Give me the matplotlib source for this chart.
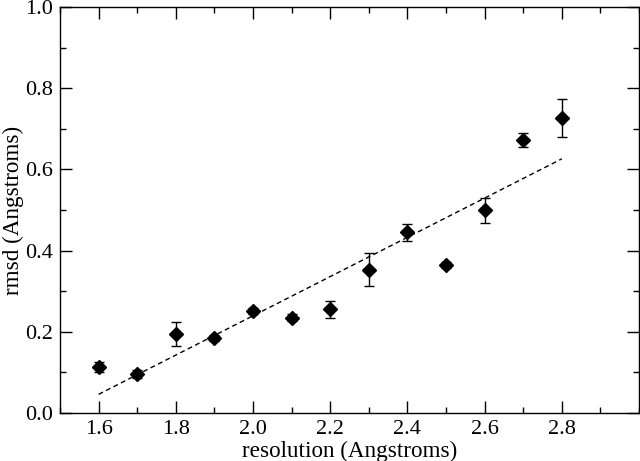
import matplotlib
matplotlib.use("Agg")
import matplotlib.pyplot as plt
from matplotlib.ticker import MultipleLocator, FormatStrFormatter

resolution = [1.6, 1.7, 1.8, 1.9, 2.0, 2.1, 2.2, 2.3, 2.4, 2.5, 2.6, 2.7, 2.8]
rmsd = [0.113, 0.095, 0.194, 0.185, 0.251, 0.235, 0.255, 0.353, 0.445, 0.364, 0.499, 0.672, 0.727]
rmsd_err = [0.012, 0.010, 0.030, 0.008, 0.008, 0.008, 0.021, 0.041, 0.021, 0.008, 0.031, 0.018, 0.047]
fit_x = [1.6, 2.8]
fit_y = [0.046, 0.626]

plt.rcParams['font.family'] = ['Liberation Serif', 'DejaVu Serif']

fig = plt.figure(figsize=(6.4, 4.61), dpi=100)
ax = fig.add_axes([60/640, 48/461, 579/640, 406/461])

ax.errorbar(resolution, rmsd, yerr=rmsd_err, fmt='D', color='black',
            markersize=7.5, ecolor='black', elinewidth=1, capsize=3.8, capthick=1)
ax.plot(fit_x, fit_y, linestyle=(0, (3.5, 2.5)), color='black', linewidth=1)

ax.set_xlim(1.5, 3.0)
ax.set_ylim(0.0, 1.0)
ax.xaxis.set_major_locator(MultipleLocator(0.2))
ax.xaxis.set_minor_locator(MultipleLocator(0.1))
ax.yaxis.set_major_locator(MultipleLocator(0.2))
ax.yaxis.set_minor_locator(MultipleLocator(0.1))
ax.xaxis.set_major_formatter(FormatStrFormatter('%.1f'))
ax.yaxis.set_major_formatter(FormatStrFormatter('%.1f'))
ax.set_xticks([1.6, 1.8, 2.0, 2.2, 2.4, 2.6, 2.8])

ax.tick_params(which='both', direction='in', top=True, right=True, width=1, colors='black')
ax.tick_params(which='major', length=8.5, labelsize=16)
ax.tick_params(axis='x', which='major', pad=5)
ax.tick_params(axis='y', which='major', pad=5)
ax.tick_params(which='minor', length=4.5)
for s in ax.spines.values():
    s.set_linewidth(1)

ax.set_xlabel('resolution (Angstroms)', fontsize=16.7, labelpad=1)
ax.set_ylabel('rmsd (Angstroms)', fontsize=16.7, labelpad=1)

fig.savefig('out.png', dpi=100)
